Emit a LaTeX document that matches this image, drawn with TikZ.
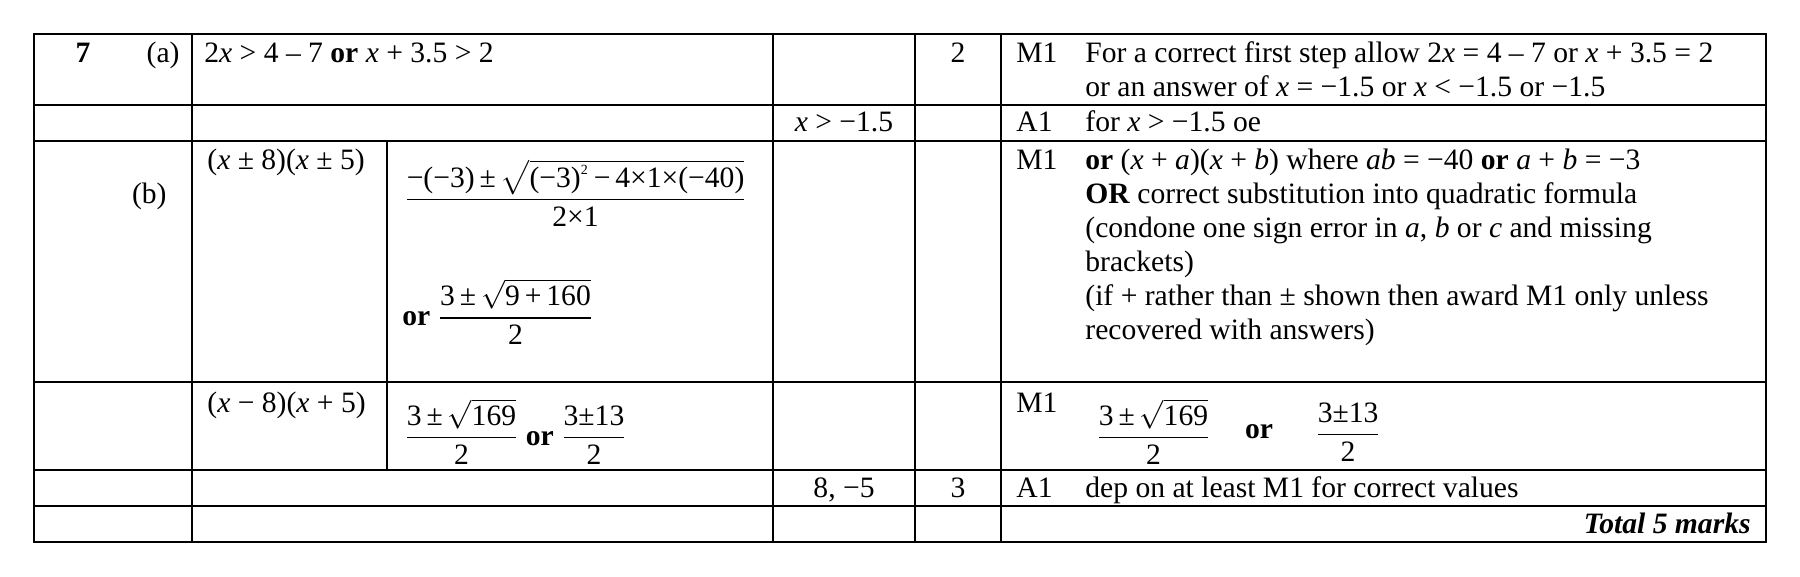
\documentclass[tikz,border=0pt]{standalone}
\usepackage{amsmath}
\usepackage{fontspec}
\setmainfont{Liberation Serif}
\newcommand{\tx}[1]{\text{#1}}
\begin{document}
\begin{tikzpicture}[x={(0.5pt,0)},y={(0,-0.5pt)},
  every node/.style={font=\fontsize{14.8}{17}\selectfont,inner sep=0pt},
  grid/.style={line width=0.9pt},
  lt/.style={anchor=base west},
  ct/.style={anchor=base},
  rt/.style={anchor=base east}]
\useasboundingbox (0,0) rectangle (1800,577);
% grid
\draw[grid] (34,34) rectangle (1766,542);
\foreach \y in {105,141,382,470,506} \draw[grid] (34,\y) -- (1766,\y);
\draw[grid] (192,34) -- (192,542);
\draw[grid] (773,34) -- (773,542);
\draw[grid] (915,34) -- (915,542);
\draw[grid] (1001,34) -- (1001,542);
\draw[grid] (387,141) -- (387,470);
% row 1
\node[ct] (q7) at (83,63) {\textbf{7}};
\node[rt] (qa) at (180,63) {(a)};
\node[lt] (r1a) at (204,63) {2\textit{x} > 4 – 7 \textbf{or} \textit{x} + 3.5 > 2};
\node[ct] (r1m) at (958,63) {2};
\node[lt] (r1c) at (1016,63) {M1};
\node[lt] (r1d) at (1085,63) {For a correct first step allow 2\textit{x} = 4 – 7 or \textit{x} + 3.5 = 2};
\node[lt] (r1e) at (1085,97) {or an answer of \textit{x} = −1.5 or \textit{x} < −1.5 or −1.5};
% row 2
\node[ct] (r2a) at (844,132) {\textit{x} > −1.5};
\node[lt] (r2c) at (1016,132) {A1};
\node[lt] (r2d) at (1085,132) {for \textit{x} > −1.5 oe};
% row 3
\node[rt] (qb) at (167,204) {(b)};
\node[lt] (r3a) at (207,170) {(\textit{x} ± 8)(\textit{x} ± 5)};
\node[anchor=west] (r3b) at (404,193) {$\dfrac{\tx{−(−3)\,±\,}\sqrt{\tx{(−3)}^{\tx{\scriptsize 2}}\tx{\,−\,4×1×(−40)}}}{\tx{2×1}}$};
\node[anchor=west] (r3c) at (402,312) {\textbf{or} $\dfrac{\tx{3\,±\,}\sqrt{\tx{9\,+\,160}}}{\tx{2}}$};
\node[lt] (r3m) at (1016,170) {M1};
\node[lt] (r3d1) at (1085,170) {\textbf{or} (\textit{x} + \textit{a})(\textit{x} + \textit{b}) where \textit{ab} = −40 \textbf{or} \textit{a} + \textit{b} = −3};
\node[lt] (r3d2) at (1085,204) {\textbf{OR} correct substitution into quadratic formula};
\node[lt] (r3d3) at (1085,238) {(condone one sign error in \textit{a}, \textit{b} or \textit{c} and missing};
\node[lt] (r3d4) at (1085,272) {brackets)};
\node[lt] (r3d5) at (1085,306) {(if + rather than ± shown then award M1 only unless};
\node[lt] (r3d6) at (1085,340) {recovered with answers)};
% row 4
\node[lt] (r4a) at (207,412) {(\textit{x} − 8)(\textit{x} + 5)};
\node[anchor=west] (r4b) at (404,432) {$\dfrac{\tx{3\,±\,}\sqrt{\tx{169}}}{\tx{2}}$ \textbf{or} $\dfrac{\tx{3±13}}{\tx{2}}$};
\node[lt] (r4m) at (1016,412) {M1};
\node[anchor=west] (r4c) at (1096,432) {$\dfrac{\tx{3\,±\,}\sqrt{\tx{169}}}{\tx{2}}$};
\node[anchor=center] (r4o) at (1259,432) {\textbf{or}};
\node[anchor=west] (r4d) at (1315,432) {$\dfrac{\tx{3±13}}{\tx{2}}$};
% row 5
\node[ct] (r5a) at (844,497) {8, −5};
\node[ct] (r5m) at (958,497) {3};
\node[lt] (r5c) at (1016,497) {A1};
\node[lt] (r5d) at (1085,497) {dep on at least M1 for correct values};
% row 6
\node[rt] (tot) at (1751,533) {\textbf{\textit{Total 5 marks}}};
\end{tikzpicture}
\end{document}
